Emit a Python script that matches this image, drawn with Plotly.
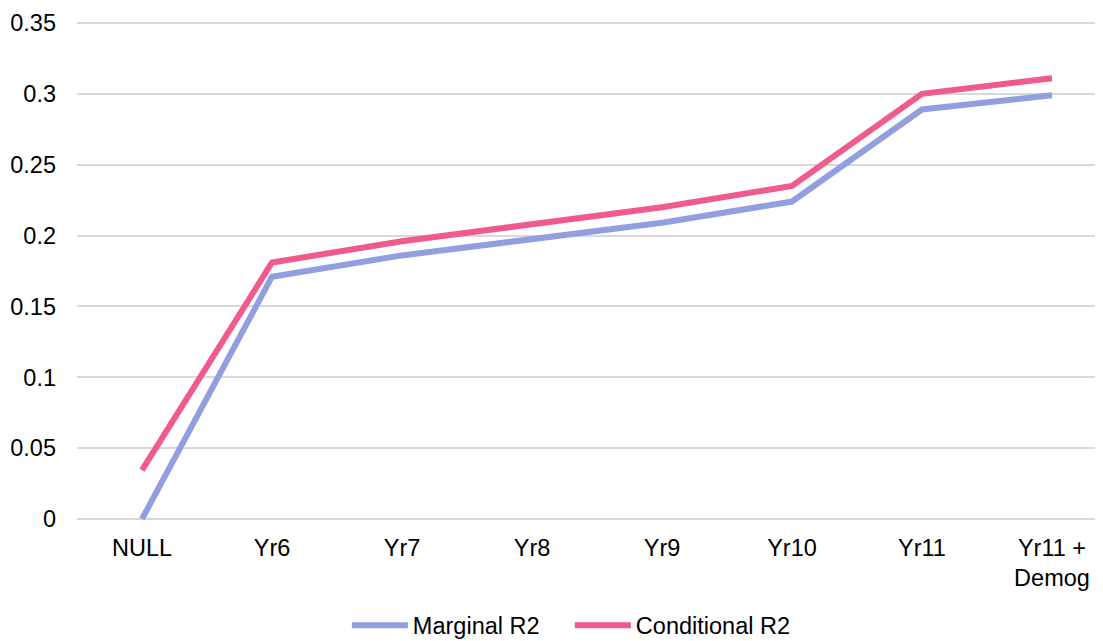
import plotly.graph_objects as go

categories = ["NULL", "Yr6", "Yr7", "Yr8", "Yr9", "Yr10", "Yr11", "Yr11 +<br>Demog"]
marginal_r2 = [0.0, 0.171, 0.186, 0.197, 0.209, 0.224, 0.289, 0.299]
conditional_r2 = [0.0345, 0.181, 0.196, 0.208, 0.220, 0.235, 0.300, 0.311]
y_ticks = [0, 0.05, 0.1, 0.15, 0.2, 0.25, 0.3, 0.35]
y_tick_text = ["0", "0.05", "0.1", "0.15", "0.2", "0.25", "0.3", "0.35"]

FONT = "Liberation Sans, Arial, sans-serif"

fig = go.Figure()
fig.add_trace(go.Scatter(x=categories, y=marginal_r2, mode="lines", name="Marginal R2",
                         line=dict(color="#919ee0", width=6), cliponaxis=False))
fig.add_trace(go.Scatter(x=categories, y=conditional_r2, mode="lines", name="Conditional R2",
                         line=dict(color="#f05a8c", width=6), cliponaxis=False))

fig.update_layout(
    width=1103, height=641,
    margin=dict(l=69, r=0, t=13, b=128, autoexpand=False),
    paper_bgcolor="white", plot_bgcolor="white",
    font=dict(family=FONT, size=23.5, color="#000000"),
    showlegend=True,
    legend=dict(orientation="h", x=0.261, xanchor="left", y=-0.209, yanchor="middle",
                font=dict(size=23.5), itemwidth=56, entrywidth=152, traceorder="normal"),
    xaxis=dict(type="category", range=[-0.5, 7.454], showgrid=False, zeroline=False,
               showline=False, ticks="", tickfont=dict(size=23.5), ticklabelstandoff=10,
               automargin=False),
    yaxis=dict(range=[-0.0014, 0.3514], tickvals=y_ticks, ticktext=y_tick_text, showgrid=True,
               gridcolor="#d9d9d9", gridwidth=1.5, zeroline=False, showline=False, ticks="",
               tickfont=dict(size=23.5), ticklabelstandoff=20, automargin=False),
)
fig.write_html("out.html")
